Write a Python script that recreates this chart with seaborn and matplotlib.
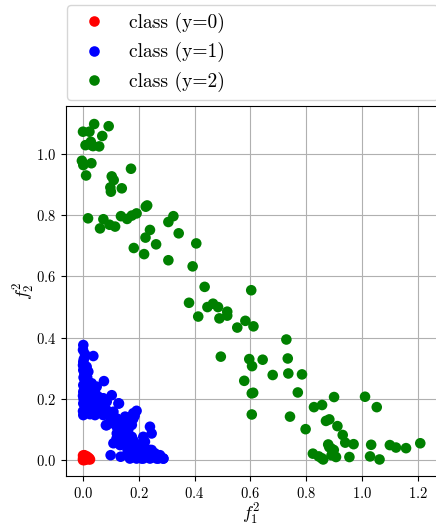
import matplotlib
matplotlib.use("Agg")
import matplotlib.pyplot as plt
import seaborn as sns
import pandas as pd

# ---------------- data ----------------
class_labels = ["class (y=0)", "class (y=1)", "class (y=2)"]
class_colors = ["red", "blue", "green"]

red_x = [0.000, 0.003, 0.005, 0.000, 0.008, 0.012, 0.015, 0.020, 0.025, 0.010,
         0.000, 0.005, 0.018, 0.022, 0.003, 0.007, 0.014]
red_y = [0.015, 0.012, 0.016, 0.005, 0.008, 0.010, 0.006, 0.003, 0.002, 0.002,
         0.000, 0.000, 0.008, 0.006, 0.006, 0.013, 0.012]

blue_x = [0.001, 0.007, 0.037, 0.001, 0.013, 0.001, 0.019, 0.007, 0.001, 0.075,
          0.031, 0.049, 0.043, 0.001, 0.025, 0.103, 0.055, 0.073, 0.085, 0.001,
          0.019, 0.043, 0.129, 0.055, 0.085, 0.109, 0.001, 0.025, 0.043, 0.192,
          0.180, 0.073, 0.097, 0.121, 0.151, 0.168, 0.085, 0.133, 0.144, 0.162,
          0.240, 0.246, 0.121, 0.139, 0.157, 0.216, 0.222, 0.175, 0.186, 0.109,
          0.133, 0.151, 0.198, 0.228, 0.246, 0.099, 0.135, 0.168, 0.192, 0.216,
          0.240, 0.264, 0.288, 0.162, 0.186, 0.210, 0.234, 0.258, 0.276, 0.175,
          0.204, 0.000, 0.003, 0.000, 0.005, 0.002, 0.004, 0.000, 0.002, 0.000,
          0.010, 0.015, 0.020, 0.025, 0.030, 0.035, 0.060, 0.065, 0.050, 0.070,
          0.090, 0.100, 0.110, 0.120, 0.130, 0.140, 0.150, 0.160, 0.170, 0.180,
          0.185, 0.130, 0.140, 0.150, 0.160, 0.170, 0.180, 0.185, 0.190, 0.170,
          0.160, 0.140, 0.120, 0.130, 0.150, 0.200, 0.210, 0.220, 0.230, 0.240,
          0.250, 0.260, 0.270, 0.280, 0.200, 0.210, 0.190, 0.170, 0.160, 0.175,
          0.157, 0.180, 0.192, 0.216, 0.240, 0.258, 0.276, 0.288, 0.127, 0.082]
blue_y = [0.376, 0.346, 0.340, 0.321, 0.305, 0.294, 0.289, 0.261, 0.245, 0.258,
          0.251, 0.240, 0.223, 0.223, 0.218, 0.212, 0.207, 0.202, 0.191, 0.185,
          0.183, 0.191, 0.185, 0.169, 0.163, 0.158, 0.147, 0.150, 0.147, 0.161,
          0.153, 0.147, 0.142, 0.136, 0.142, 0.131, 0.114, 0.114, 0.109, 0.098,
          0.109, 0.087, 0.087, 0.076, 0.098, 0.076, 0.060, 0.076, 0.055, 0.055,
          0.049, 0.049, 0.038, 0.033, 0.033, 0.016, 0.011, 0.005, 0.005, 0.005,
          0.005, 0.005, 0.005, 0.016, 0.016, 0.016, 0.016, 0.016, 0.016, 0.027,
          0.033, 0.360, 0.330, 0.310, 0.280, 0.270, 0.230, 0.210, 0.200, 0.160,
          0.170, 0.270, 0.250, 0.230, 0.200, 0.170, 0.180, 0.160, 0.190, 0.170,
          0.150, 0.130, 0.120, 0.110, 0.130, 0.120, 0.125, 0.120, 0.140, 0.135,
          0.145, 0.100, 0.090, 0.085, 0.080, 0.070, 0.065, 0.045, 0.030, 0.050,
          0.060, 0.060, 0.070, 0.065, 0.065, 0.050, 0.045, 0.020, 0.020, 0.015,
          0.020, 0.010, 0.005, 0.008, 0.010, 0.005, 0.015, 0.020, 0.030, 0.115,
          0.092, 0.060, 0.038, 0.027, 0.033, 0.022, 0.011, 0.005, 0.185, 0.114]

green_x = [0.000, 0.023, 0.040, 0.092, 0.069, 0.009, 0.028, 0.031, 0.036, 0.058,
           -0.004, 0.001, 0.030, 0.011, 0.172, 0.103, 0.110, 0.098, 0.100, 0.139,
           0.018, 0.073, 0.061, 0.095, 0.115, 0.136, 0.158, 0.175, 0.192, 0.230,
           0.225, 0.182, 0.219, 0.224, 0.240, 0.262, 0.306, 0.324, 0.343, 0.306,
           0.406, 0.393, 0.436, 0.380, 0.413, 0.446, 0.466, 0.484, 0.489, 0.517,
           0.517, 0.553, 0.582, 0.611, 0.603, 0.729, 0.494, 0.596, 0.606, 0.644,
           0.734, 0.680, 0.736, 0.785, 0.578, 0.770, 0.605, 0.610, 0.605, 0.742,
           0.900, 1.011, 1.053, 0.828, 0.857, 0.798, 0.871, 0.883, 0.912, 0.931,
           0.940, 0.970, 0.879, 0.883, 0.891, 0.899, 0.824, 0.845, 0.856, 0.861,
           0.891, 0.907, 0.955, 1.033, 1.029, 1.063, 1.100, 1.122, 1.158, 1.209]
green_y = [1.073, 1.073, 1.098, 1.091, 1.059, 1.029, 1.040, 1.029, 1.026, 1.025,
           0.978, 0.964, 0.970, 0.930, 0.952, 0.927, 0.915, 0.891, 0.877, 0.888,
           0.790, 0.787, 0.757, 0.769, 0.763, 0.797, 0.788, 0.799, 0.806, 0.832,
           0.828, 0.693, 0.673, 0.727, 0.752, 0.705, 0.778, 0.797, 0.741, 0.653,
           0.708, 0.633, 0.566, 0.514, 0.469, 0.500, 0.511, 0.500, 0.463, 0.485,
           0.472, 0.433, 0.455, 0.437, 0.555, 0.394, 0.338, 0.330, 0.307, 0.328,
           0.332, 0.278, 0.283, 0.280, 0.259, 0.221, 0.218, 0.220, 0.149, 0.142,
           0.206, 0.207, 0.173, 0.173, 0.180, 0.101, 0.128, 0.133, 0.111, 0.082,
           0.057, 0.052, 0.051, 0.042, 0.037, 0.033, 0.021, 0.012, 0.006, 0.002,
           0.016, 0.010, 0.010, 0.050, 0.012, 0.002, 0.049, 0.041, 0.039, 0.055]

x_ticks = [0.0, 0.2, 0.4, 0.6, 0.8, 1.0, 1.2]
y_ticks = [0.0, 0.2, 0.4, 0.6, 0.8, 1.0]
x_label = r"$f_1^2$"
y_label = r"$f_2^2$"

# ---------------- frame ----------------
frames = []
for lab, xs, ys in zip(class_labels, [red_x, blue_x, green_x], [red_y, blue_y, green_y]):
    frames.append(pd.DataFrame({"x": xs, "y": ys, "cls": lab}))
df = pd.concat(frames, ignore_index=True)

plt.rcParams["font.family"] = "serif"
plt.rcParams["font.serif"] = ["cmr10"]
plt.rcParams["mathtext.fontset"] = "cm"
plt.rcParams["axes.formatter.use_mathtext"] = True
plt.rcParams["axes.unicode_minus"] = False

fig = plt.figure(figsize=(4.36, 5.28), dpi=100)
ax = fig.add_axes([66 / 436, 52 / 528, (437 - 66) / 436, 370 / 528])
ax.set_axisbelow(True)
ax.grid(True, color="#b0b0b0", linewidth=0.8)

sns.scatterplot(data=df, x="x", y="y", hue="cls", hue_order=class_labels,
                palette=dict(zip(class_labels, class_colors)),
                s=58, linewidth=0, ax=ax, zorder=3)

ax.set_xlim(-0.061, 1.269)
ax.set_ylim(-0.052, 1.157)
ax.set_xticks(x_ticks)
ax.set_yticks(y_ticks)
ax.tick_params(labelsize=10.5)
ax.set_xlabel(x_label, fontsize=13, labelpad=0.5)
ax.set_ylabel(y_label, fontsize=13, labelpad=-0.5)

sns.move_legend(ax, loc="lower left", bbox_to_anchor=(0.003, 1.016, 1.0, 0.2),
                mode="expand", borderaxespad=0, title=None, fontsize=14,
                frameon=True, markerscale=1.0)

fig.savefig("out.png", dpi=100)
